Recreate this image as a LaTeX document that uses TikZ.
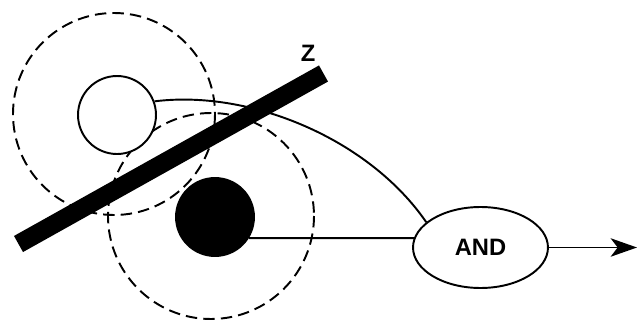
\documentclass[tikz,border=0pt]{standalone}
\usepackage{fontspec}
\setsansfont{Liberation Sans}
\usepackage{tikz}
\usetikzlibrary{arrows.meta,positioning,calc,shapes.geometric}

\begin{document}
\begin{tikzpicture}[
  x=0.02cm,y=-0.02cm,
  disc/.style={circle,draw,line width=1.1pt,minimum size=1.56cm,inner sep=0pt},
  ring/.style={line width=1.1pt,dash pattern=on 6.5pt off 3.5pt},
  gate/.style={ellipse,draw,line width=1.1pt,fill=white,minimum width=2.7cm,minimum height=1.62cm,inner sep=0pt},
  wire/.style={line width=1.1pt},
  arc/.style={-{Stealth[length=15pt,width=10.5pt,inset=4pt]},line width=1.1pt},
  zbar/.style={line width=10.5pt,line cap=butt},
  lab/.style={font=\sffamily\bfseries\fontsize{13.5}{15}\selectfont,inner sep=0pt}
]
\useasboundingbox (0,0) rectangle (637,325);
% receptive fields
\draw[ring] (114,114) circle[radius=101];
\draw[ring] (211,216) circle[radius=103];
% units
\node[disc,fill=white] (pos) at (117,115) {};
\node[disc,fill=black] (neg) at (215,217) {};
\node[gate] (and) at (480.5,247.5) {};
\node[lab] at (and.center) {AND};
\coordinate (out) at (637,247.5);
% connections
\draw[wire] (pos.20) .. controls +(96,-12) and +(-57,-83) .. (and.155);
\draw[wire] (neg.-32) -- (and.172);
\draw[arc] (and.east) -- (out);
% the bar
\coordinate (zA) at (18.5,244);
\coordinate (zB) at (323.5,73.5);
\draw[zbar] (zA) -- (zB);
\node[lab] (z) at (308,53) {Z};
\end{tikzpicture}
\end{document}
